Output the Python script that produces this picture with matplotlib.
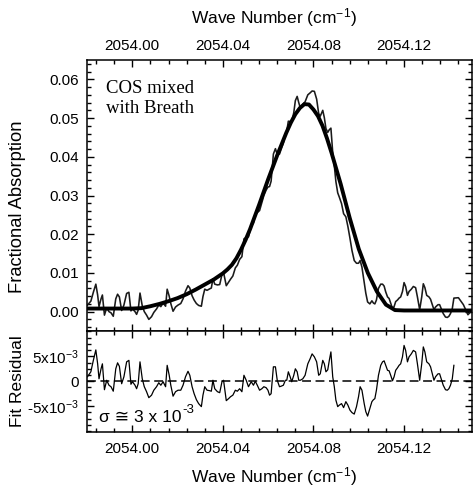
import matplotlib
matplotlib.use('Agg')
import matplotlib.pyplot as plt
from matplotlib.ticker import MultipleLocator, FixedLocator, FixedFormatter, FormatStrFormatter, AutoMinorLocator

plt.rcParams['font.family'] = ['Liberation Sans', 'DejaVu Sans']
plt.rcParams['mathtext.fontset'] = 'custom'
plt.rcParams['mathtext.rm'] = 'Liberation Sans'
plt.rcParams['mathtext.it'] = 'Liberation Sans:italic'

# wave number grid of the measured spectrum / residual (cm-1)
nu = [2053.9802, 2053.9817, 2053.9828, 2053.9839, 2053.9847, 2053.9853, 2053.9862, 2053.9868,
      2053.9877, 2053.9887, 2053.9897, 2053.9906, 2053.9916, 2053.9927, 2053.9935, 2053.9943,
      2053.9953, 2053.9963, 2053.9975, 2053.9985, 2053.9994, 2054.0001, 2054.0012, 2054.0019,
      2054.0026, 2054.0034, 2054.0044, 2054.0053, 2054.0063, 2054.0073, 2054.0085, 2054.0095,
      2054.0107, 2054.0117, 2054.0126, 2054.0136, 2054.0147, 2054.0154, 2054.0163, 2054.0170,
      2054.0180, 2054.0191, 2054.0202, 2054.0214, 2054.0224, 2054.0235, 2054.0246, 2054.0254,
      2054.0264, 2054.0273, 2054.0283, 2054.0293, 2054.0305, 2054.0312, 2054.0320, 2054.0330,
      2054.0342, 2054.0349, 2054.0356, 2054.0364, 2054.0376, 2054.0386, 2054.0396, 2054.0403,
      2054.0415, 2054.0425, 2054.0434, 2054.0444, 2054.0455, 2054.0464, 2054.0474, 2054.0484,
      2054.0493, 2054.0503, 2054.0513, 2054.0525, 2054.0535, 2054.0543, 2054.0552, 2054.0562,
      2054.0572, 2054.0581, 2054.0591, 2054.0599, 2054.0606, 2054.0613, 2054.0623, 2054.0632,
      2054.0640, 2054.0650, 2054.0657, 2054.0667, 2054.0676, 2054.0682, 2054.0689, 2054.0697,
      2054.0704, 2054.0713, 2054.0720, 2054.0728, 2054.0735, 2054.0742, 2054.0753, 2054.0763,
      2054.0775, 2054.0785, 2054.0794, 2054.0804, 2054.0814, 2054.0823, 2054.0830, 2054.0841,
      2054.0848, 2054.0855, 2054.0863, 2054.0870, 2054.0877, 2054.0885, 2054.0892, 2054.0899,
      2054.0907, 2054.0914, 2054.0924, 2054.0933, 2054.0943, 2054.0952, 2054.0961, 2054.0970,
      2054.0980, 2054.0990, 2054.0999, 2054.1006, 2054.1014, 2054.1024, 2054.1031, 2054.1039,
      2054.1049, 2054.1058, 2054.1065, 2054.1071, 2054.1078, 2054.1087, 2054.1097, 2054.1105,
      2054.1112, 2054.1119, 2054.1127, 2054.1134, 2054.1141, 2054.1149, 2054.1156, 2054.1163,
      2054.1171, 2054.1178, 2054.1185, 2054.1193, 2054.1200, 2054.1207, 2054.1215, 2054.1222,
      2054.1232, 2054.1241, 2054.1251, 2054.1259, 2054.1269, 2054.1278, 2054.1285, 2054.1292,
      2054.1300, 2054.1310, 2054.1317, 2054.1325, 2054.1332, 2054.1339, 2054.1350, 2054.1357,
      2054.1364, 2054.1373, 2054.1383, 2054.1391, 2054.1398, 2054.1405, 2054.1413, 2054.1420]

# measured fractional absorption (COS mixed with breath)
absorb = [0.0017, 0.0027, 0.0050, 0.0071, 0.0043, 0.0013, 0.0033, 0.0043,
          -0.0009, 0.0010, 0.0000, -0.0003, -0.0012, 0.0033, 0.0045, 0.0038,
          0.0003, 0.0017, 0.0047, 0.0050, 0.0002, 0.0007, 0.0000, -0.0007,
          0.0004, 0.0048, 0.0015, 0.0000, -0.0009, -0.0020, -0.0013, -0.0002,
          0.0007, 0.0017, 0.0013, 0.0022, 0.0014, 0.0058, 0.0040, 0.0021,
          0.0001, 0.0012, 0.0017, 0.0021, 0.0033, 0.0053, 0.0067, 0.0061,
          0.0041, 0.0030, 0.0021, 0.0016, 0.0014, 0.0039, 0.0058, 0.0055,
          0.0059, 0.0061, 0.0085, 0.0071, 0.0069, 0.0070, 0.0096, 0.0101,
          0.0067, 0.0076, 0.0084, 0.0092, 0.0113, 0.0120, 0.0135, 0.0142,
          0.0188, 0.0192, 0.0193, 0.0221, 0.0229, 0.0250, 0.0256, 0.0261,
          0.0281, 0.0300, 0.0314, 0.0322, 0.0323, 0.0337, 0.0407, 0.0421,
          0.0406, 0.0407, 0.0419, 0.0435, 0.0458, 0.0466, 0.0492, 0.0491,
          0.0490, 0.0514, 0.0545, 0.0556, 0.0540, 0.0526, 0.0536, 0.0542,
          0.0560, 0.0565, 0.0570, 0.0569, 0.0549, 0.0512, 0.0505, 0.0520,
          0.0501, 0.0473, 0.0463, 0.0470, 0.0474, 0.0411, 0.0377, 0.0336,
          0.0307, 0.0296, 0.0279, 0.0253, 0.0245, 0.0220, 0.0190, 0.0158,
          0.0132, 0.0125, 0.0125, 0.0132, 0.0115, 0.0075, 0.0048, 0.0025,
          0.0020, 0.0028, 0.0022, 0.0020, 0.0030, 0.0060, 0.0071, 0.0071,
          0.0066, 0.0051, 0.0038, 0.0034, 0.0022, 0.0008, 0.0013, 0.0026,
          0.0030, 0.0035, 0.0038, 0.0052, 0.0075, 0.0065, 0.0042, 0.0052,
          0.0058, 0.0065, 0.0062, 0.0038, 0.0005, 0.0038, 0.0072, 0.0062,
          0.0042, 0.0038, 0.0032, 0.0018, 0.0005, 0.0012, 0.0018, 0.0018,
          0.0008, -0.0005, -0.0014, -0.0015, -0.0012, -0.0005, 0.0008, 0.0035]

# the spectrum runs on a little past the end of the residual trace
nu_tail = [2054.1440, 2054.1462, 2054.1482, 2054.1500]
absorb_tail = [0.0036, 0.0018, -0.0008, 0.0003]

# fit residual
resid = [0.0009, 0.0019, 0.0042, 0.0063, 0.0035, 0.0005, 0.0025, 0.0035,
         -0.0017, 0.0002, -0.0008, -0.0011, -0.0020, 0.0025, 0.0037, 0.0030,
         -0.0005, 0.0009, 0.0039, 0.0042, -0.0006, -0.0001, -0.0008, -0.0015,
         -0.0005, 0.0039, 0.0005, -0.0011, -0.0021, -0.0033, -0.0028, -0.0018,
         -0.0011, -0.0003, -0.0008, -0.0001, -0.0011, 0.0032, 0.0012, -0.0008,
         -0.0030, -0.0021, -0.0018, -0.0018, -0.0008, 0.0009, 0.0020, 0.0012,
         -0.0011, -0.0025, -0.0037, -0.0045, -0.0051, -0.0028, -0.0011, -0.0018,
         -0.0019, -0.0020, 0.0002, -0.0015, -0.0021, -0.0023, -0.0001, 0.0002,
         -0.0039, -0.0035, -0.0031, -0.0028, -0.0018, -0.0020, -0.0015, -0.0021,
         0.0012, 0.0002, -0.0011, -0.0001, -0.0008, 0.0000, -0.0008, -0.0018,
         -0.0015, -0.0011, -0.0013, -0.0018, -0.0028, -0.0025, 0.0029, 0.0029,
         0.0002, -0.0011, -0.0010, -0.0008, 0.0002, 0.0002, 0.0019, 0.0009,
         -0.0001, 0.0012, 0.0025, 0.0019, 0.0002, 0.0002, 0.0005, 0.0012,
         0.0035, 0.0045, 0.0055, 0.0049, 0.0039, 0.0012, 0.0015, 0.0042,
         0.0035, 0.0019, 0.0023, 0.0042, 0.0059, 0.0009, -0.0011, -0.0038,
         -0.0051, -0.0048, -0.0045, -0.0053, -0.0041, -0.0048, -0.0058, -0.0063,
         -0.0066, -0.0051, -0.0031, -0.0011, -0.0018, -0.0045, -0.0061, -0.0070,
         -0.0055, -0.0041, -0.0037, -0.0035, -0.0018, 0.0012, 0.0032, 0.0039,
         0.0041, 0.0032, 0.0022, 0.0021, 0.0012, 0.0001, 0.0009, 0.0022,
         0.0027, 0.0032, 0.0035, 0.0049, 0.0072, 0.0062, 0.0039, 0.0049,
         0.0055, 0.0062, 0.0059, 0.0035, 0.0002, 0.0035, 0.0069, 0.0059,
         0.0039, 0.0035, 0.0029, 0.0015, 0.0002, 0.0009, 0.0015, 0.0015,
         0.0005, -0.0008, -0.0017, -0.0018, -0.0015, -0.0008, 0.0005, 0.0032]

# fitted line profile
fit_nu = [2053.980, 2053.984, 2053.988, 2053.992, 2053.996, 2054.000, 2054.004, 2054.008,
          2054.012, 2054.016, 2054.020, 2054.024, 2054.028, 2054.032, 2054.036, 2054.040,
          2054.042, 2054.044, 2054.046, 2054.048, 2054.050, 2054.052, 2054.056, 2054.060,
          2054.064, 2054.068, 2054.070, 2054.072, 2054.074, 2054.076, 2054.078, 2054.080,
          2054.082, 2054.084, 2054.086, 2054.088, 2054.092, 2054.096, 2054.100, 2054.104,
          2054.108, 2054.112, 2054.116, 2054.120, 2054.130, 2054.140, 2054.150]
fit = [0.0008, 0.0008, 0.0008, 0.0008, 0.0008, 0.0008, 0.0009, 0.0014,
       0.0020, 0.0027, 0.0035, 0.0045, 0.0057, 0.0070, 0.0083, 0.0099,
       0.0109, 0.0121, 0.0138, 0.0160, 0.0185, 0.0213, 0.0276, 0.0342,
       0.0404, 0.0462, 0.0488, 0.0510, 0.0526, 0.0536, 0.0535, 0.0522,
       0.0505, 0.0480, 0.0447, 0.0410, 0.0330, 0.0242, 0.0162, 0.0100,
       0.0052, 0.0018, 0.0004, 0.0003, 0.0003, 0.0003, 0.0003]

resid_ticks = [-0.005, 0.0, 0.005]
resid_tick_labels = ['-5x10$^{-3}$', '0', '5x10$^{-3}$']

W, H = 473, 487
fig = plt.figure(figsize=(W / 100, H / 100), dpi=100)
ax1 = fig.add_axes([87 / W, 1 - 331 / H, 385 / W, 271 / H])
ax2 = fig.add_axes([87 / W, 1 - 432 / H, 385 / W, 101 / H], sharex=ax1)

ax1.plot(nu + nu_tail, absorb + absorb_tail, color='#1a1a1a', lw=1.15)
ax1.plot(fit_nu, fit, color='black', lw=2.8, solid_capstyle='round', solid_joinstyle='round')
ax1.set_xlim(2053.98, 2054.15)
ax1.set_ylim(-0.005, 0.065)

ax2.plot(nu, resid, color='black', lw=0.9)
ax2.axhline(0, color='black', lw=1.1, dashes=(5.8, 3.0))
ax2.set_ylim(-0.0102, 0.0101)

for ax in (ax1, ax2):
    ax.xaxis.set_major_locator(MultipleLocator(0.04))
    ax.xaxis.set_minor_locator(MultipleLocator(0.008))
    ax.xaxis.set_major_formatter(FormatStrFormatter('%.2f'))
    ax.tick_params(which='both', direction='in', top=True, right=True, width=1.0,
                   labelsize=11, colors='black')
    ax.tick_params(which='major', length=5)
    ax.tick_params(which='minor', length=3)
    for s in ax.spines.values():
        s.set_linewidth(1.1)

ax1.tick_params(axis='x', labeltop=True, labelbottom=False, pad=5)
ax1.tick_params(axis='y', pad=6)
ax1.yaxis.set_major_locator(MultipleLocator(0.01))
ax1.yaxis.set_minor_locator(MultipleLocator(0.002))
ax1.yaxis.set_major_formatter(FormatStrFormatter('%.2f'))

ax2.tick_params(axis='x', labeltop=False, labelbottom=True, pad=7)
ax2.tick_params(axis='y', pad=6)
ax2.yaxis.set_major_locator(FixedLocator(resid_ticks))
ax2.yaxis.set_major_formatter(FixedFormatter(resid_tick_labels))
ax2.yaxis.set_minor_locator(AutoMinorLocator(4))

# axis titles
fig.text(274 / W, 1 - 18 / H, 'Wave Number (cm$^{-1}$)', ha='center', va='center', fontsize=12.5)
fig.text(274 / W, 1 - 477 / H, 'Wave Number (cm$^{-1}$)', ha='center', va='center', fontsize=12.5)
fig.text(18 / W, 1 - 207 / H, 'Fractional Absorption', rotation=90, ha='center', va='center', fontsize=13.2)
fig.text(18 / W, 1 - 381 / H, 'Fit Residual', rotation=90, ha='center', va='center', fontsize=12.5)

# annotations
serif = ['Liberation Serif', 'DejaVu Serif']
fig.text(106 / W, 1 - 93 / H, 'COS mixed', family=serif, fontsize=13.5, va='baseline')
fig.text(106 / W, 1 - 113 / H, 'with Breath', family=serif, fontsize=13.5, va='baseline')
sig = fig.text(99 / W, 1 - 422 / H, 'σ ≅ 3 x 10', fontsize=12.5, va='baseline')
ax2.annotate('-3', xy=(1.0, 0.0), xycoords=sig, xytext=(0.5, 8.5), textcoords='offset points',
             fontsize=9.5, va='baseline', ha='left')

fig.savefig('out.png', dpi=100)
